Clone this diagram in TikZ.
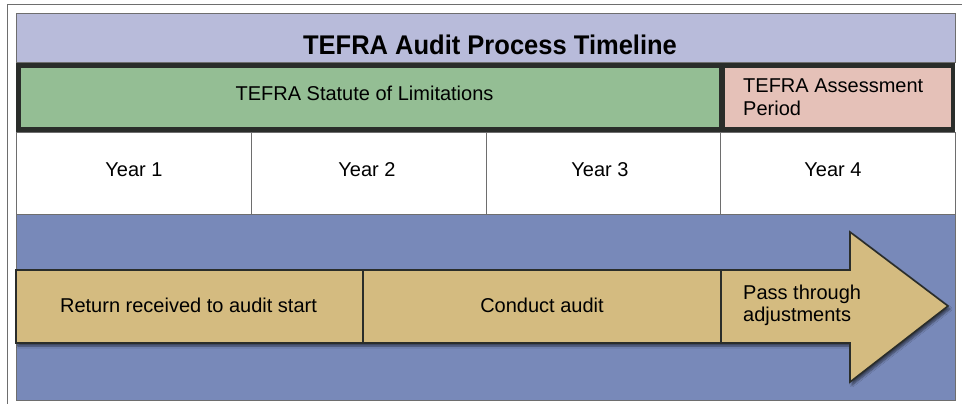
\documentclass[tikz,border=0pt]{standalone}
\usepackage{fontspec}
\usepackage{graphicx}
\setmainfont{Liberation Sans}
\usetikzlibrary{shadows.blur}
\definecolor{lav}{HTML}{B8BBDA}
\definecolor{grn}{HTML}{94BE94}
\definecolor{pnk}{HTML}{E5C1B8}
\definecolor{blu}{HTML}{7889B9}
\definecolor{tan}{HTML}{D4BB80}
\definecolor{dk}{HTML}{2A2D2A}
\definecolor{gr}{HTML}{6E6E6E}
\tikzset{
  thinbox/.style={draw=gr, line width=1pt},
  lbl/.style={inner sep=0pt, font=\fontsize{20}{22.7}\selectfont},
  ttl/.style={inner sep=0pt, font=\bfseries\fontsize{27}{30}\selectfont},
  arrowshape/.style={fill=tan, draw=dk, line width=1.6pt, line join=miter,
    blur shadow={shadow xshift=2pt, shadow yshift=-3pt, shadow blur steps=6, shadow opacity=55}},
  sep/.style={draw=dk, line width=1.6pt}
}
\begin{document}
\begin{tikzpicture}[x=1pt,y=-1pt]
\useasboundingbox (0,0) rectangle (962,404);
% outer frame
\draw[gr, line width=1pt] (7.5,404) -- (7.5,4.5) -- (962,4.5);
% title
\path[fill=lav, thinbox] (16,14) rectangle (955,63);
\node[ttl, anchor=base] (title) at (490,55) {\scalebox{0.945}[1]{TEFRA Audit Process Timeline}};
% dark frame with green and pink
\fill[dk] (16,63) rectangle (955,132);
\fill[grn] (21,68) rectangle (719,127);
\fill[pnk] (725,68) rectangle (951,127);
\node[lbl, anchor=base] (sol) at (364.5,101) {TEFRA Statute of Limitations};
\node[lbl, anchor=base west, align=left] (ap) at (743,115) {TEFRA Assessment\\Period};
% years row
\path[fill=white, thinbox] (16,132) rectangle (955,214);
\draw[thinbox] (251,132) -- (251,214) (486,132) -- (486,214) (720,132) -- (720,214);
\node[lbl, anchor=base] (y1) at (134,176.7) {Year 1};
\node[lbl, anchor=base] (y2) at (367,176.7) {Year 2};
\node[lbl, anchor=base] (y3) at (600,176.7) {Year 3};
\node[lbl, anchor=base] (y4) at (833,176.7) {Year 4};
% blue region
\path[fill=blu, thinbox] (16,214) rectangle (955,400);
% arrow
\path[arrowshape] (16,270) -- (850,270) -- (850,232) -- (948,306) -- (850,382) -- (850,343) -- (16,343) -- cycle;
\draw[sep] (363,270) -- (363,343) (721,270) -- (721,343);
\node[lbl, anchor=base] (s1) at (188.5,312.7) {Return received to audit start};
\node[lbl, anchor=base] (s2) at (542,312.7) {Conduct audit};
\node[lbl, anchor=base west, align=left] (s3) at (743,321.7) {Pass through\\adjustments};
\end{tikzpicture}
\end{document}
